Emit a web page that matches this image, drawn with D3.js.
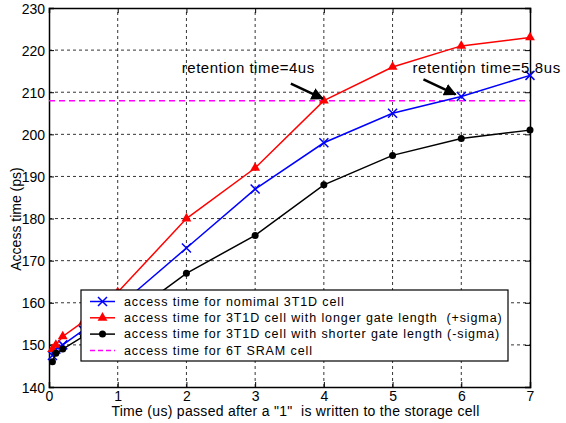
<!DOCTYPE html>
<html>
<head>
<meta charset="utf-8">
<script src="https://cdn.jsdelivr.net/npm/d3@7"></script>
<style>
  body { margin: 0; background: #fff; }
  svg text { font-family: "Liberation Sans", Arial, sans-serif; fill: #000; white-space: pre; }
</style>
</head>
<body>
<div id="chart"></div>
<script>
// time points (us) and access times (ps)
const times = [0.05, 0.1, 0.2, 0.5, 1, 2, 3, 4, 5, 6, 7];
const nominal = [147.5, 149, 150, 153.5, 159, 173, 187, 198, 205, 209, 214];
const plusSigma = [149, 150, 152, 155.5, 162.5, 180, 192, 208, 216, 221, 223];
const minusSigma = [146, 148, 149, 152, 155, 167, 176, 188, 195, 199, 201];
const sramTime = 208;

const xTicks = [0, 1, 2, 3, 4, 5, 6, 7];
const yTicks = [140, 150, 160, 170, 180, 190, 200, 210, 220, 230];

const legendLabels = [
    'access time for nomimal 3T1D cell',
    'access time for 3T1D cell with longer gate length  (+sigma)',
    'access time for 3T1D cell with shorter gate length (-sigma)',
    'access time for 6T SRAM cell'
];

// annotations: label and the point the arrow hits
const noteLabels = ['retention time=4us', 'retention time=5.8us'];
const noteX = [4, 5.93];
const noteY = [208, 209];

const width = 566, height = 423;
const margin = { top: 8, right: 36, bottom: 36, left: 49 };

const svg = d3.select('#chart').append('svg')
    .attr('width', width)
    .attr('height', height);

const x = d3.scaleLinear().domain([0, 7]).range([margin.left, width - margin.right]);
const y = d3.scaleLinear().domain([140, 230]).range([height - margin.bottom, margin.top]);

svg.append('defs').append('marker')
    .attr('id', 'head')
    .attr('viewBox', '0 0 10 10')
    .attr('refX', 9).attr('refY', 5)
    .attr('markerWidth', 5).attr('markerHeight', 5)
    .attr('markerUnits', 'strokeWidth')
    .attr('orient', 'auto')
    .append('path').attr('d', 'M0,0L10,5L0,10z').attr('fill', '#000');

// grid
const grid = svg.append('g').attr('stroke', '#000').attr('stroke-width', 0.8).attr('stroke-dasharray', '3,3');
grid.selectAll('line.vx').data(xTicks.slice(1, -1)).join('line')
    .attr('x1', d => x(d)).attr('x2', d => x(d))
    .attr('y1', y(140)).attr('y2', y(230));
grid.selectAll('line.hy').data(yTicks.slice(1, -1)).join('line')
    .attr('class', 'hy')
    .attr('x1', x(0)).attr('x2', x(7))
    .attr('y1', d => y(d)).attr('y2', d => y(d));

// axes
const axisB = svg.append('g').attr('transform', `translate(0,${y(140)})`)
    .call(d3.axisBottom(x).tickValues(xTicks).tickSize(-5).tickPadding(4).tickFormat(d3.format('d')));
const axisL = svg.append('g').attr('transform', `translate(${x(0)},0)`)
    .call(d3.axisLeft(y).tickValues(yTicks).tickSize(-5).tickPadding(4));
svg.append('g').attr('transform', `translate(0,${y(230)})`)
    .call(d3.axisTop(x).tickValues(xTicks).tickSize(-5).tickFormat(''));
svg.append('g').attr('transform', `translate(${x(7)},0)`)
    .call(d3.axisRight(y).tickValues(yTicks).tickSize(-5).tickFormat(''));
svg.selectAll('.domain').attr('stroke-width', 1.5);
svg.selectAll('.tick text').attr('font-size', 14).attr('font-family', '"Liberation Sans", Arial, sans-serif');
axisL.selectAll('.tick text').attr('dy', '0.36em');
axisB.selectAll('.tick text').attr('dy', '0.68em');

// data series
const series = [
    { vals: nominal, color: '#0000ff', mark: 'cross' },
    { vals: plusSigma, color: '#ff0000', mark: 'tri' },
    { vals: minusSigma, color: '#000000', mark: 'dot' }
];

const line = d3.line().x(d => x(d[0])).y(d => y(d[1]));

function drawMark(g, kind, color) {
    if (kind === 'cross') {
        g.append('path').attr('d', 'M-4.5,-4.5L4.5,4.5M-4.5,4.5L4.5,-4.5')
            .attr('stroke', color).attr('stroke-width', 1.5).attr('fill', 'none');
    } else if (kind === 'tri') {
        g.append('path').attr('d', d3.symbol(d3.symbolTriangle, 42)())
            .attr('fill', color);
    } else {
        g.append('circle').attr('r', 3.5).attr('fill', color);
    }
}

svg.append('line')
    .attr('x1', x(0)).attr('x2', x(7))
    .attr('y1', y(sramTime)).attr('y2', y(sramTime))
    .attr('stroke', '#ff00ff').attr('stroke-width', 1.5).attr('stroke-dasharray', '6,4');

series.forEach(s => {
    const pts = times.map((t, i) => [t, s.vals[i]]);
    svg.append('path').datum(pts)
        .attr('d', line)
        .attr('fill', 'none')
        .attr('stroke', s.color)
        .attr('stroke-width', 1.5);
    svg.append('g').selectAll('g').data(pts).join('g')
        .attr('transform', d => `translate(${x(d[0])},${y(d[1])})`)
        .each(function () { drawMark(d3.select(this), s.mark, s.color); });
});

// annotations; label start is set relative to the arrow tip
const labelShift = [-142, -44];
const labelSpacing = [0.5, 0.6];
noteLabels.forEach((label, i) => {
    const tx = x(noteX[i]), ty = y(noteY[i]);
    svg.append('text')
        .attr('x', tx + labelShift[i]).attr('y', 73)
        .attr('font-size', 15)
        .attr('letter-spacing', labelSpacing[i])
        .text(label);
    svg.append('line')
        .attr('x1', tx - 33).attr('y1', ty - 17)
        .attr('x2', tx - 1).attr('y2', ty - 2)
        .attr('stroke', '#000').attr('stroke-width', 2.5)
        .attr('marker-end', 'url(#head)');
});

// legend
const lg = svg.append('g').attr('transform', 'translate(81,290)');
lg.append('rect').attr('width', 427).attr('height', 71)
    .attr('fill', '#fff').attr('stroke', '#000').attr('stroke-width', 1.2);
const legendItems = series.concat([{ color: '#ff00ff', mark: 'dash' }]);
legendItems.forEach((s, i) => {
    const row = lg.append('g').attr('transform', `translate(0,${11.5 + i * 16.3})`);
    row.append('line').attr('x1', 9).attr('x2', 34)
        .attr('stroke', s.color).attr('stroke-width', 1.5)
        .attr('stroke-dasharray', s.mark === 'dash' ? '5,3' : null);
    if (s.mark !== 'dash') drawMark(row.append('g').attr('transform', 'translate(21.5,0)'), s.mark, s.color);
    row.append('text').attr('x', 43).attr('dy', '0.35em')
        .attr('font-size', 12.5).attr('letter-spacing', 0.9)
        .text(legendLabels[i]);
});

// axis titles
svg.append('text')
    .attr('x', (x(0) + x(7)) / 2 + 6).attr('y', 416)
    .attr('text-anchor', 'middle').attr('font-size', 14).attr('letter-spacing', 0.3)
    .text('Time (us) passed after a "1"  is written to the storage cell');
svg.append('text')
    .attr('transform', 'translate(21,219) rotate(-90)')
    .attr('text-anchor', 'middle').attr('font-size', 14)
    .text('Access time (ps)');
</script>
</body>
</html>
